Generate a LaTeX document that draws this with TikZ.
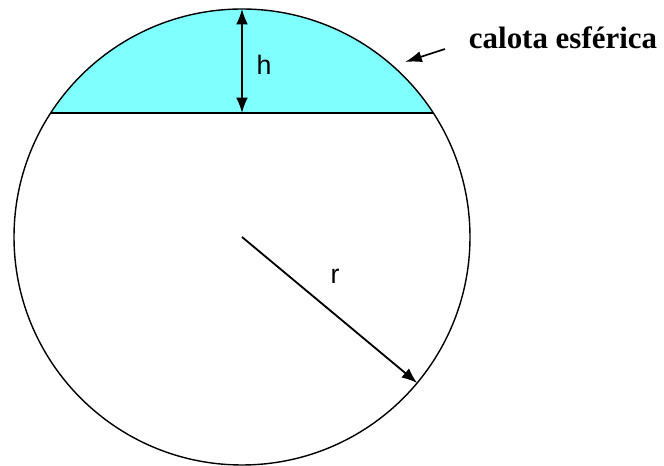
\documentclass[tikz,border=0pt]{standalone}
\usepackage{fontspec}
\setmainfont{Liberation Serif}
\setsansfont{Liberation Sans}
\usepackage{xcolor}
\usetikzlibrary{arrows.meta,positioning}
\definecolor{capfill}{RGB}{128,255,255}

\begin{document}
\begin{tikzpicture}[x=0.025cm,y=0.025cm,>={Latex[length=11pt,width=8.5pt]}, lbl/.style={font=\sffamily\fontsize{19}{19}\selectfont}]
\useasboundingbox (0,0) rectangle (664,466);
\coordinate (O) at (242,229);
\fill[capfill] (O) ++(33:228) coordinate (cr) arc (33:147:228) coordinate (cl) -- cycle;
\draw[line width=1pt] (O) circle (228);
\draw[line width=1.3pt] (cl) -- (cr);
\coordinate (ctop) at (242,457);
\coordinate (cmid) at (242,353);
\draw[<->,line width=1.3pt] (ctop) -- (cmid);
\node[lbl] (h) at (264,401) {h};
\draw[->,line width=1.3pt] (O) -- ++(-39.8:228) coordinate (rend);
\node[lbl] (r) at (335,190) {r};
\node[font=\bfseries\fontsize{22}{22}\selectfont] (cal) at (563,428) {calota esférica};
\coordinate (tip) at (405,404);
\draw[->,line width=1.2pt,>={Latex[length=12pt,width=8pt]}] (cal.west) ++(-19,-11) -- (tip);
\end{tikzpicture}
\end{document}
